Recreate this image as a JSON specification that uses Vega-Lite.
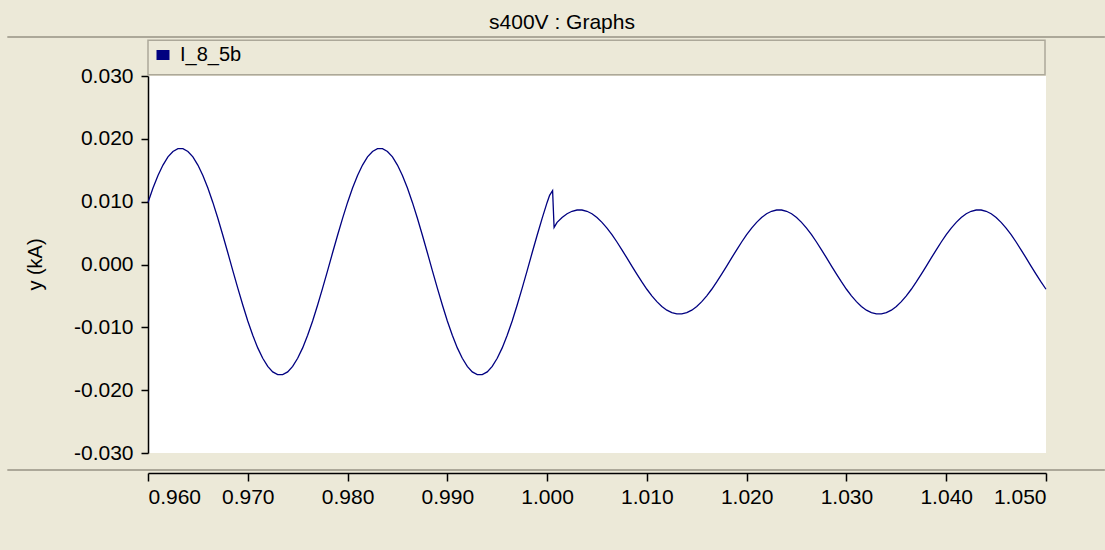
{
  "$schema": "https://vega.github.io/schema/vega-lite/v6.json",
  "width": 898,
  "height": 377,
  "autosize": {"type": "none"},
  "padding": {"left": 148, "top": 76, "right": 59, "bottom": 97},
  "background": "#ECE9D8",
  "title": {"text": "s400V : Graphs", "fontSize": 21, "fontWeight": "normal", "color": "black", "anchor": "middle", "offset": 3, "dx": -35, "font": "Liberation Sans"},
  "config": {"view": {"fill": "white", "stroke": null}, "font": "Liberation Sans"},
  "layer": [
    {
      "data": {"values": [{}]},
      "mark": {"type": "rect", "fill": "#ECE9D8", "stroke": "#ACA899", "strokeWidth": 1.5},
      "encoding": {
        "x": {"datum": 0.96, "type": "quantitative"},
        "x2": {"datum": 1.0499},
        "y": {"datum": 0.0302, "type": "quantitative"},
        "y2": {"datum": 0.0357}
      }
    },
    {
      "data": {"values": [{"y": 0.0362}, {"y": -0.0327}]},
      "mark": {"type": "rule", "color": "#ACA899", "strokeWidth": 2},
      "encoding": {
        "x": {"datum": 0.9459, "type": "quantitative"},
        "x2": {"datum": 1.0559},
        "y": {"field": "y", "type": "quantitative"}
      }
    },
    {
      "data": {"values": [
        {"t":0.9600,"i":0.00988},{"t":0.9605,"i":0.01217},{"t":0.9610,"i":0.01417},{"t":0.9615,"i":0.01583},{"t":0.9620,"i":0.01712},{"t":0.9625,"i":0.01799},{"t":0.9630,"i":0.01843},{"t":0.9635,"i":0.01843},{"t":0.9640,"i":0.01799},{"t":0.9645,"i":0.01712},
        {"t":0.9650,"i":0.01583},{"t":0.9655,"i":0.01417},{"t":0.9660,"i":0.01217},{"t":0.9665,"i":0.00988},{"t":0.9670,"i":0.00735},{"t":0.9675,"i":0.00466},{"t":0.9680,"i":0.00187},{"t":0.9685,"i":-0.00097},{"t":0.9690,"i":-0.00376},{"t":0.9695,"i":-0.00645},
        {"t":0.9700,"i":-0.00898},{"t":0.9705,"i":-0.01127},{"t":0.9710,"i":-0.01327},{"t":0.9715,"i":-0.01493},{"t":0.9720,"i":-0.01622},{"t":0.9725,"i":-0.01709},{"t":0.9730,"i":-0.01753},{"t":0.9735,"i":-0.01753},{"t":0.9740,"i":-0.01709},{"t":0.9745,"i":-0.01622},
        {"t":0.9750,"i":-0.01493},{"t":0.9755,"i":-0.01327},{"t":0.9760,"i":-0.01127},{"t":0.9765,"i":-0.00898},{"t":0.9770,"i":-0.00645},{"t":0.9775,"i":-0.00376},{"t":0.9780,"i":-0.00097},{"t":0.9785,"i":0.00187},{"t":0.9790,"i":0.00466},{"t":0.9795,"i":0.00735},
        {"t":0.9800,"i":0.00988},{"t":0.9805,"i":0.01217},{"t":0.9810,"i":0.01417},{"t":0.9815,"i":0.01583},{"t":0.9820,"i":0.01712},{"t":0.9825,"i":0.01799},{"t":0.9830,"i":0.01843},{"t":0.9835,"i":0.01843},{"t":0.9840,"i":0.01799},{"t":0.9845,"i":0.01712},
        {"t":0.9850,"i":0.01583},{"t":0.9855,"i":0.01417},{"t":0.9860,"i":0.01217},{"t":0.9865,"i":0.00988},{"t":0.9870,"i":0.00735},{"t":0.9875,"i":0.00466},{"t":0.9880,"i":0.00187},{"t":0.9885,"i":-0.00097},{"t":0.9890,"i":-0.00376},{"t":0.9895,"i":-0.00645},
        {"t":0.9900,"i":-0.00898},{"t":0.9905,"i":-0.01127},{"t":0.9910,"i":-0.01327},{"t":0.9915,"i":-0.01493},{"t":0.9920,"i":-0.01622},{"t":0.9925,"i":-0.01709},{"t":0.9930,"i":-0.01753},{"t":0.9935,"i":-0.01753},{"t":0.9940,"i":-0.01709},{"t":0.9945,"i":-0.01622},
        {"t":0.9950,"i":-0.01493},{"t":0.9955,"i":-0.01327},{"t":0.9960,"i":-0.01127},{"t":0.9965,"i":-0.00898},{"t":0.9970,"i":-0.00645},{"t":0.9975,"i":-0.00376},{"t":0.9980,"i":-0.00097},{"t":0.9985,"i":0.00187},{"t":0.9990,"i":0.00466},{"t":0.9995,"i":0.00735},
        {"t":1.0000,"i":0.00988},{"t":1.00025,"i":0.0110},{"t":1.00055,"i":0.01175},{"t":1.0007,"i":0.0059},
        {"t":1.0010,"i":0.00671},{"t":1.0015,"i":0.00748},{"t":1.0020,"i":0.00807},{"t":1.0025,"i":0.00847},{"t":1.0030,"i":0.00867},{"t":1.0035,"i":0.00867},{"t":1.0040,"i":0.00847},{"t":1.0045,"i":0.00807},{"t":1.0050,"i":0.00748},{"t":1.0055,"i":0.00671},
        {"t":1.0060,"i":0.00579},{"t":1.0065,"i":0.00474},{"t":1.0070,"i":0.00358},{"t":1.0075,"i":0.00234},{"t":1.0080,"i":0.00105},{"t":1.0085,"i":-0.00025},{"t":1.0090,"i":-0.00154},{"t":1.0095,"i":-0.00278},{"t":1.0100,"i":-0.00394},{"t":1.0105,"i":-0.00499},
        {"t":1.0110,"i":-0.00591},{"t":1.0115,"i":-0.00668},{"t":1.0120,"i":-0.00727},{"t":1.0125,"i":-0.00767},{"t":1.0130,"i":-0.00787},{"t":1.0135,"i":-0.00787},{"t":1.0140,"i":-0.00767},{"t":1.0145,"i":-0.00727},{"t":1.0150,"i":-0.00668},{"t":1.0155,"i":-0.00591},
        {"t":1.0160,"i":-0.00499},{"t":1.0165,"i":-0.00394},{"t":1.0170,"i":-0.00278},{"t":1.0175,"i":-0.00154},{"t":1.0180,"i":-0.00025},{"t":1.0185,"i":0.00105},{"t":1.0190,"i":0.00234},{"t":1.0195,"i":0.00358},{"t":1.0200,"i":0.00474},{"t":1.0205,"i":0.00579},
        {"t":1.0210,"i":0.00671},{"t":1.0215,"i":0.00748},{"t":1.0220,"i":0.00807},{"t":1.0225,"i":0.00847},{"t":1.0230,"i":0.00867},{"t":1.0235,"i":0.00867},{"t":1.0240,"i":0.00847},{"t":1.0245,"i":0.00807},{"t":1.0250,"i":0.00748},{"t":1.0255,"i":0.00671},
        {"t":1.0260,"i":0.00579},{"t":1.0265,"i":0.00474},{"t":1.0270,"i":0.00358},{"t":1.0275,"i":0.00234},{"t":1.0280,"i":0.00105},{"t":1.0285,"i":-0.00025},{"t":1.0290,"i":-0.00154},{"t":1.0295,"i":-0.00278},{"t":1.0300,"i":-0.00394},{"t":1.0305,"i":-0.00499},
        {"t":1.0310,"i":-0.00591},{"t":1.0315,"i":-0.00668},{"t":1.0320,"i":-0.00727},{"t":1.0325,"i":-0.00767},{"t":1.0330,"i":-0.00787},{"t":1.0335,"i":-0.00787},{"t":1.0340,"i":-0.00767},{"t":1.0345,"i":-0.00727},{"t":1.0350,"i":-0.00668},{"t":1.0355,"i":-0.00591},
        {"t":1.0360,"i":-0.00499},{"t":1.0365,"i":-0.00394},{"t":1.0370,"i":-0.00278},{"t":1.0375,"i":-0.00154},{"t":1.0380,"i":-0.00025},{"t":1.0385,"i":0.00105},{"t":1.0390,"i":0.00234},{"t":1.0395,"i":0.00358},{"t":1.0400,"i":0.00474},{"t":1.0405,"i":0.00579},
        {"t":1.0410,"i":0.00671},{"t":1.0415,"i":0.00748},{"t":1.0420,"i":0.00807},{"t":1.0425,"i":0.00847},{"t":1.0430,"i":0.00867},{"t":1.0435,"i":0.00867},{"t":1.0440,"i":0.00847},{"t":1.0445,"i":0.00807},{"t":1.0450,"i":0.00748},{"t":1.0455,"i":0.00671},
        {"t":1.0460,"i":0.00579},{"t":1.0465,"i":0.00474},{"t":1.0470,"i":0.00358},{"t":1.0475,"i":0.00234},{"t":1.0480,"i":0.00105},{"t":1.0485,"i":-0.00025},{"t":1.0490,"i":-0.00154},{"t":1.0495,"i":-0.00278},{"t":1.0500,"i":-0.00394}
      ]},
      "mark": {"type": "line", "strokeWidth": 1.3, "color": "#1a1a8c"},
      "encoding": {
        "x": {
          "field": "t", "type": "quantitative",
          "scale": {"domain": [0.96, 1.05], "nice": false, "zero": false},
          "axis": {
            "title": null, "offset": 20, "grid": false,
            "values": [0.96, 0.97, 0.98, 0.99, 1.0, 1.01, 1.02, 1.03, 1.04, 1.05],
            "labelExpr": "format(datum.value, '.3f')",
            "tickSize": 8, "labelPadding": 5, "labelFontSize": 21, "labelColor": "black",
            "domainColor": "black", "tickColor": "black", "domainWidth": 1.5, "tickWidth": 1.5,
            "labelFont": "Liberation Sans"
          }
        },
        "y": {
          "field": "i", "type": "quantitative",
          "scale": {"domain": [-0.03, 0.03], "nice": false, "zero": false},
          "axis": {
            "title": "y (kA)", "grid": false,
            "values": [-0.03, -0.02, -0.01, 0, 0.01, 0.02, 0.03],
            "labelExpr": "(datum.value < -0.000001 ? '-' : '') + format(abs(datum.value), '.3f')",
            "tickSize": 7, "labelPadding": 8, "labelFontSize": 21, "labelColor": "black",
            "domainColor": "black", "tickColor": "black", "domainWidth": 1.5, "tickWidth": 1.5,
            "labelFont": "Liberation Sans",
            "titleFontSize": 20, "titleFontWeight": "normal", "titleColor": "black", "titleFont": "Liberation Sans",
            "titleX": -113, "titleY": 188, "titleAngle": -90, "titleAlign": "center", "titleBaseline": "middle"
          }
        },
        "color": {
          "datum": "I_8_5b", "type": "nominal",
          "scale": {"range": ["#000080"]},
          "legend": {
            "orient": "none", "legendX": 5, "legendY": -31, "title": null,
            "labelFontSize": 20, "labelColor": "black", "labelFont": "Liberation Sans",
            "symbolType": "M-1,-0.77H1V0.77H-1Z", "symbolSize": 169,
            "symbolFillColor": "#000080", "symbolStrokeWidth": 0,
            "labelOffset": 7, "padding": 0
          }
        }
      }
    }
  ]
}
